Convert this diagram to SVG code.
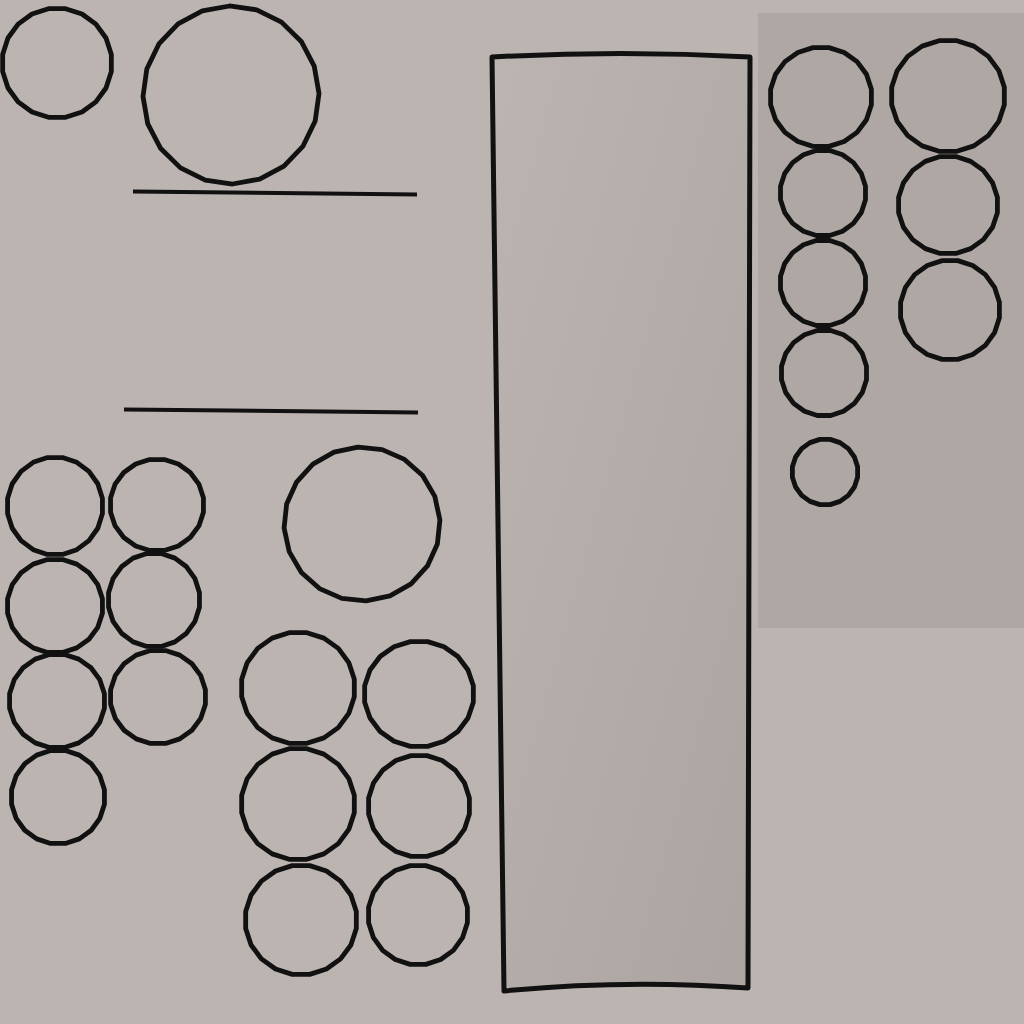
<svg xmlns="http://www.w3.org/2000/svg" xmlns:xlink="http://www.w3.org/1999/xlink" width="1024" height="1024" viewBox="0 0 1024 1024">
<defs>
<style>
.ring{fill:none;stroke:#111;stroke-width:4.8;stroke-linejoin:round;vector-effect:non-scaling-stroke}
.ln{stroke:#111;stroke-width:4;fill:none}
</style>
<polygon id="p" class="ring" points=".988,.156 .891,.454 .707,.707 .454,.891 .156,.988 -.156,.988 -.454,.891 -.707,.707 -.891,.454 -.988,.156 -.988,-.156 -.891,-.454 -.707,-.707 -.454,-.891 -.156,-.988 .156,-.988 .454,-.891 .707,-.707 .891,-.454 .988,-.156"/>
<linearGradient id="g" x1="0" y1="0" x2="1" y2="1">
<stop offset="0" stop-color="#bbb4b1"/>
<stop offset="1" stop-color="#aba4a0"/>
</linearGradient>
</defs>
<rect width="1024" height="1024" fill="#bbb4b1"/>
<rect x="758" y="13" width="266" height="615" fill="#aea7a3"/>
<g id="panel">
<path d="M492,57 Q621,50 750,57 Q751,520 748,988 Q626,979 504,991 Q496,520 492,57 Z" fill="url(#g)" stroke="#111" stroke-width="5" stroke-linejoin="round"/>
</g>
<g id="lines">
<line class="ln" x1="133" y1="191.5" x2="417" y2="194.5"/>
<line class="ln" x1="124" y1="409.5" x2="418" y2="412.5"/>
</g>
<g id="topleft">
<use href="#p" transform="translate(57,63) scale(55,55)"/>
<use href="#p" transform="translate(231,95) scale(88,89) rotate(8)"/>
</g>
<g id="leftgroup">
<use href="#p" transform="translate(55,506) scale(48,49)"/>
<use href="#p" transform="translate(157,505) scale(47,46)"/>
<use href="#p" transform="translate(55,606) scale(48,47)"/>
<use href="#p" transform="translate(154,600) scale(46,47)"/>
<use href="#p" transform="translate(57,701) scale(48,47)"/>
<use href="#p" transform="translate(158,697) scale(48,47)"/>
<use href="#p" transform="translate(58,797) scale(47,47)"/>
</g>
<g id="bigmid">
<use href="#p" transform="translate(362,524) scale(78,77) rotate(6)"/>
</g>
<g id="grid">
<use href="#p" transform="translate(298,688) scale(57,56)"/>
<use href="#p" transform="translate(419,694) scale(55,53)"/>
<use href="#p" transform="translate(298,804) scale(57,56)"/>
<use href="#p" transform="translate(419,806) scale(51,51)"/>
<use href="#p" transform="translate(301,920) scale(56,55)"/>
<use href="#p" transform="translate(418,915) scale(50,50)"/>
</g>
<g id="rightgroup">
<use href="#p" transform="translate(821,97) scale(51,50)"/>
<use href="#p" transform="translate(948,96) scale(57,56)"/>
<use href="#p" transform="translate(823,193) scale(43,43)"/>
<use href="#p" transform="translate(948,205) scale(50,49)"/>
<use href="#p" transform="translate(823,283) scale(43,43)"/>
<use href="#p" transform="translate(950,310) scale(50,50)"/>
<use href="#p" transform="translate(824,373) scale(43,43)"/>
<use href="#p" transform="translate(825,472) scale(33,33)"/>
</g>
</svg>
